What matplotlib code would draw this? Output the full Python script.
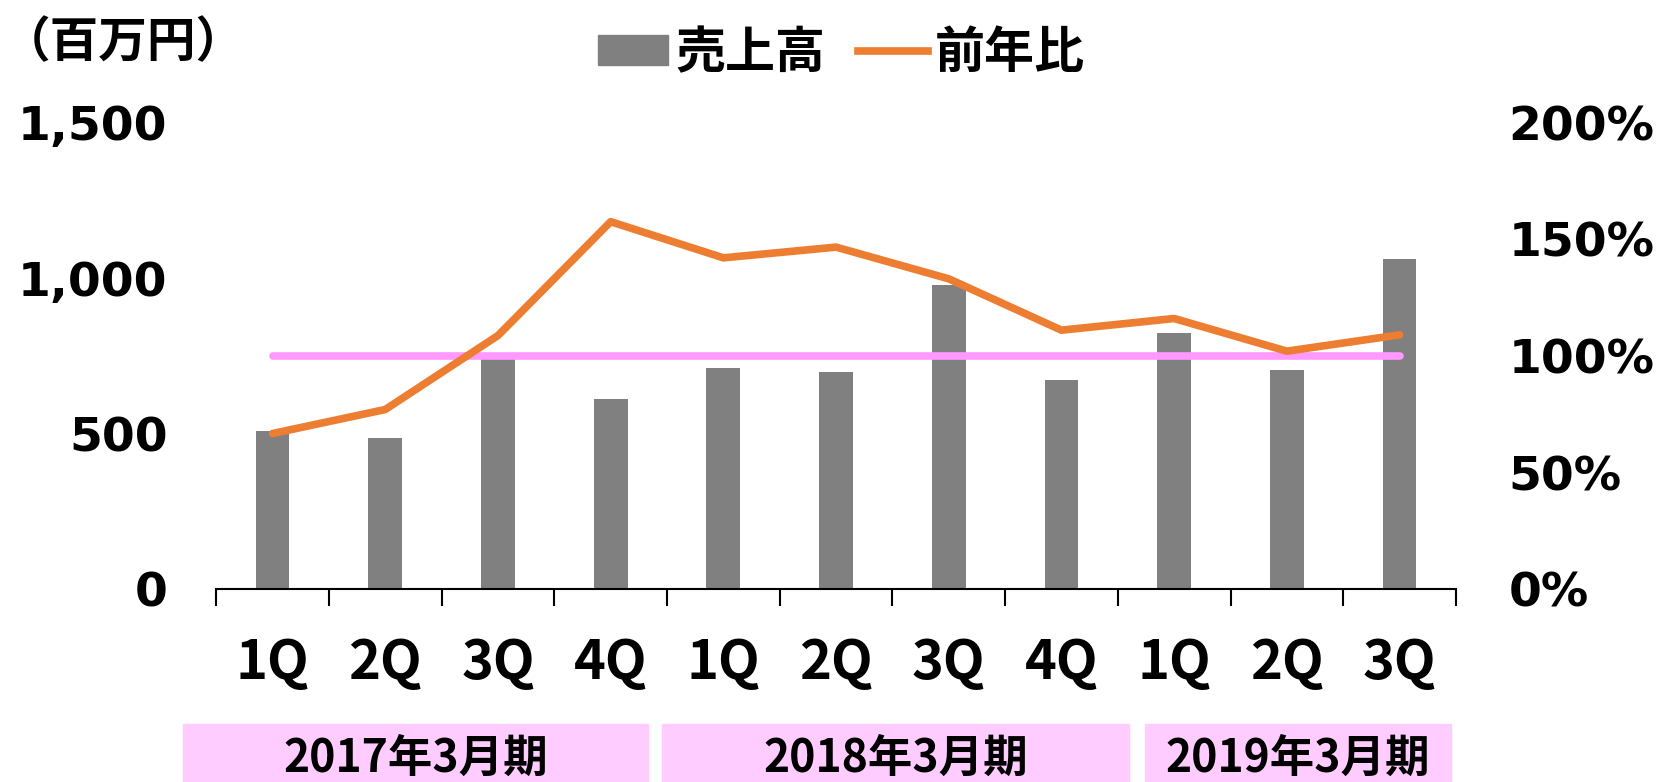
import matplotlib
matplotlib.use("Agg")
import matplotlib.pyplot as plt
import numpy as np
from matplotlib.patches import Rectangle
from matplotlib.lines import Line2D

# data
quarters = ['1Q', '2Q', '3Q', '4Q', '1Q', '2Q', '3Q', '4Q', '1Q', '2Q', '3Q']
sales = [510, 486, 743, 610, 712, 699, 979, 671, 825, 705, 1062]   # 百万円
yoy = [66.7, 77, 108.7, 157.5, 142, 146.6, 133, 111, 116, 102, 109]  # %
baseline = 100
periods = ['2017年3月期', '2018年3月期', '2019年3月期']

CJK = ['Noto Sans CJK JP', 'DejaVu Sans']
NUM = ['DejaVu Sans']

fig = plt.figure(figsize=(16.7, 7.82), dpi=100)
W, H = 1568.0, 734.0  # layout measured on the shrunk reference
ax = fig.add_axes([203 / W, 1 - 553 / H, (1367 - 203) / W, (553 - 115) / H])
ax2 = ax.twinx()

x = np.arange(len(quarters))
ax.bar(x, sales, width=0.30, color='#808080', zorder=2)
ax.set_ylim(0, 1500)
ax.set_xlim(-0.5, len(quarters) - 0.5)
ax.set_yticks([0, 500, 1000, 1500])
ax.set_yticklabels(['0', '500', '1,000', '1,500'], family=NUM,
                   fontsize=34, fontweight='bold')
ax.tick_params(axis='y', length=0, pad=35)

ax.set_xticks(np.arange(-0.5, len(quarters)), minor=False)
ax.set_xticklabels([])
ax.set_xticks(x, minor=True)
ax.set_xticklabels(quarters, minor=True, family=CJK, fontsize=39,
                   fontweight='bold')
ax.tick_params(axis='x', which='major', length=12, width=1.5, direction='out')
ax.tick_params(axis='x', which='minor', length=0, pad=34)

ax2.plot(x, [baseline] * len(x), color='#FF99FF', lw=5.5, solid_capstyle='round', zorder=3)
ax2.plot(x, yoy, color='#ED7D31', lw=5.5, solid_capstyle='round', zorder=4)
ax2.set_ylim(0, 200)
ax2.set_yticks([0, 50, 100, 150, 200])
ax2.set_yticklabels(['0%', '50%', '100%', '150%', '200%'], family=NUM,
                    fontsize=34, fontweight='bold')
ax2.tick_params(axis='y', length=0, pad=38)

for a in (ax, ax2):
    for s in ('top', 'left', 'right'):
        a.spines[s].set_visible(False)
ax.spines['bottom'].set_linewidth(1.5)
ax2.spines['bottom'].set_visible(False)

# unit label
fig.text(2 / W, 1 - 40 / H, '（百万円）', family=CJK, fontsize=35,
         fontweight='bold', va='center', ha='left')

# legend
handles = [Rectangle((0, 0), 1, 1, color='#808080'),
           Line2D([0], [0], color='#ED7D31', lw=5.5)]
fig.legend(handles, ['売上高', '前年比'], loc='center',
           bbox_to_anchor=(790 / W, 1 - 50 / H), ncol=2, frameon=False,
           prop={'family': CJK, 'size': 36, 'weight': 'bold'},
           handlelength=1.4, handleheight=0.55, handletextpad=0.15,
           columnspacing=0.65)

# fiscal period bands
bands = [(172, 608), (622, 1060), (1075, 1362)]
for (x0, x1), label in zip(bands, periods):
    fig.patches.append(Rectangle((x0 / W, 0), (x1 - x0) / W, 54 / H,
                                 transform=fig.transFigure, color='#FFCCFF',
                                 zorder=0))
    fig.text((x0 + x1) / 2 / W, 1 - 712 / H, label, family=CJK, fontsize=32,
             fontweight='bold', ha='center', va='center')

fig.savefig('out.png', dpi=100)
